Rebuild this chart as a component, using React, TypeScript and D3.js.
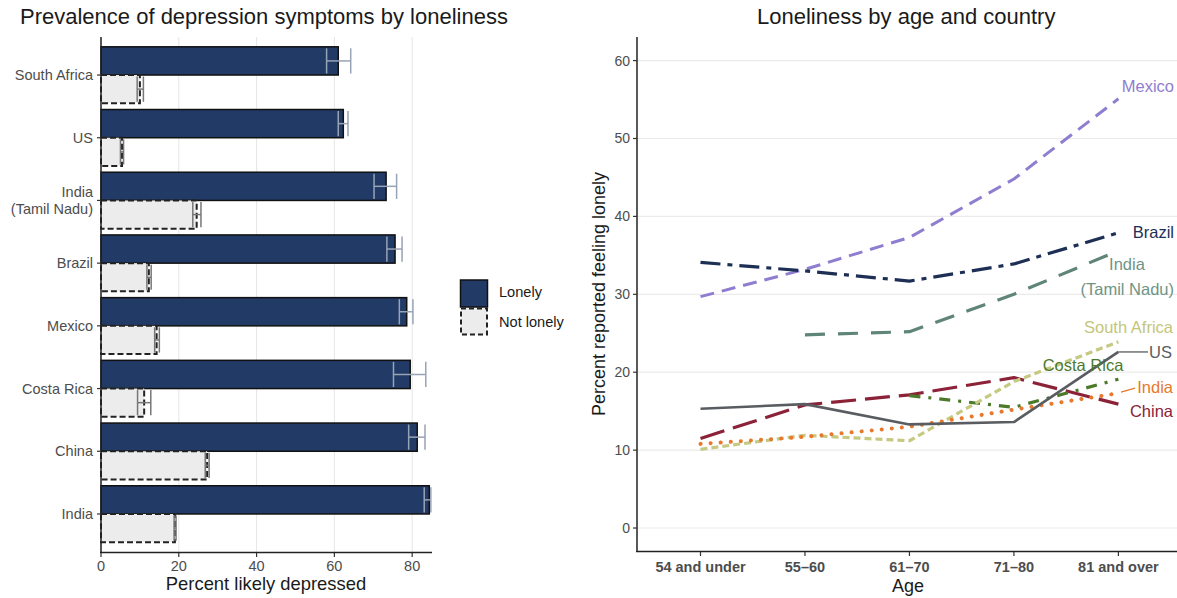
import React from "react";
import * as d3 from "d3";

const countries = ["South Africa", "US", "India (Tamil Nadu)", "Brazil", "Mexico", "Costa Rica", "China", "India"];
const lonelyPct = [61.0, 62.3, 73.3, 75.6, 78.6, 79.5, 81.3, 84.4];
const lonelyLo = [58.0, 61.0, 70.2, 73.5, 76.7, 75.2, 79.1, 83.1];
const lonelyHi = [64.2, 63.5, 76.0, 77.4, 80.2, 83.5, 83.3, 84.8];
const notLonelyPct = [10.0, 5.4, 24.6, 12.3, 14.3, 11.1, 27.3, 19.0];
const notLonelyLo = [9.3, 5.0, 23.6, 11.8, 13.8, 9.4, 26.8, 18.8];
const notLonelyHi = [10.9, 5.8, 25.7, 12.9, 15.0, 12.8, 27.8, 19.3];
const xTicksLeft = [0, 20, 40, 60, 80];

const ages = ["54 and under", "55\u201360", "61\u201370", "71\u201380", "81 and over"];
const yTicksRight = [0, 10, 20, 30, 40, 50, 60];
const mexico = [29.7, 33.2, 37.3, 44.8, 55.1];
const brazil = [34.1, 33.0, 31.7, 33.9, 37.9];
const indiaTN = [null, 24.8, 25.2, 30.0, 35.6];
const southAfrica = [10.1, 11.9, 11.2, 18.8, 23.9];
const us = [15.3, 15.9, 13.3, 13.6, 22.6];
const costaRica = [null, null, 17.0, 15.5, 19.1];
const indiaLine = [10.8, 11.7, 13.0, 15.2, 17.3];
const china = [11.5, 15.8, 17.1, 19.3, 15.9];

const FONT = "'Liberation Sans', Arial, Helvetica, sans-serif";

type Series = { name: string; values: (number | null)[]; color: string; dash: string; width: number; cap: string };
const series: Series[] = [
  { name: "Mexico", values: mexico, color: "#8f7dd0", dash: "14,8", width: 3, cap: "butt" },
  { name: "Brazil", values: brazil, color: "#1d2f55", dash: "20,7,5,7", width: 3.2, cap: "butt" },
  { name: "India (Tamil Nadu)", values: indiaTN, color: "#5f8577", dash: "20,13", width: 3.2, cap: "butt" },
  { name: "China", values: china, color: "#8c2238", dash: "25,9", width: 3.2, cap: "butt" },
  { name: "Costa Rica", values: costaRica, color: "#4c7a2a", dash: "11,8,3,8", width: 3.2, cap: "butt" },
  { name: "South Africa", values: southAfrica, color: "#c6c981", dash: "7,4", width: 3.2, cap: "butt" },
  { name: "India", values: indiaLine, color: "#e8792c", dash: "0.1,10", width: 4, cap: "round" },
  { name: "US", values: us, color: "#595d61", dash: "", width: 2.6, cap: "butt" },
];

export default function App() {
  const xL = d3.scaleLinear().domain([0, 85.1]).range([101, 432]);
  const yL = d3.scalePoint<string>().domain(countries).range([37.4, 551.6]).padding(0.6);
  const step = yL.step();
  const barH = step * 0.45;

  const xR = d3.scalePoint<string>().domain(ages).range([700.5, 1118.4]);
  const yR = d3.scaleLinear().domain([-2.95, 62.9]).range([551, 38]);
  const line = d3
    .line<number | null>()
    .defined((d) => d !== null)
    .x((_, i) => xR(ages[i]) as number)
    .y((d) => yR(d as number));

  const grey = "#4d4d4d";
  const axisX = 637;

  return (
    <svg width={1177} height={598} style={{ position: "absolute", left: 0, top: 0, background: "#fff" }} fontFamily={FONT}>
      <rect x={0} y={0} width={1177} height={598} fill="#fff" />
      <text x={20} y={24} fontSize={22} fill="#1a1a1a">Prevalence of depression symptoms by loneliness</text>
      <text x={757} y={24} fontSize={22} fill="#1a1a1a">Loneliness by age and country</text>

      {xTicksLeft.map((t) => (
        <line key={"g" + t} x1={xL(t)} x2={xL(t)} y1={37} y2={552} stroke="#e6e6e6" strokeWidth={1} />
      ))}

      {countries.map((c, i) => {
        const cy = yL(c) as number;
        return (
          <g key={c}>
            <rect x={xL(0)} y={cy - barH} width={xL(lonelyPct[i]) - xL(0)} height={barH} fill="#213a66" stroke="#111" strokeWidth={1.5} />
            <rect x={xL(0)} y={cy} width={xL(notLonelyPct[i]) - xL(0)} height={barH} fill="#ececec" stroke="#222" strokeWidth={2} strokeDasharray="6,3" />
            <g stroke="#98a3b5" strokeWidth={1.5}>
              <line x1={xL(lonelyLo[i])} x2={xL(lonelyHi[i])} y1={cy - barH / 2} y2={cy - barH / 2} />
              <line x1={xL(lonelyLo[i])} x2={xL(lonelyLo[i])} y1={cy - barH + 1.5} y2={cy - 1.5} />
              <line x1={xL(lonelyHi[i])} x2={xL(lonelyHi[i])} y1={cy - barH + 1.5} y2={cy - 1.5} />
            </g>
            <g stroke="#777" strokeWidth={1.5}>
              <line x1={xL(notLonelyLo[i])} x2={xL(notLonelyHi[i])} y1={cy + barH / 2} y2={cy + barH / 2} />
              <line x1={xL(notLonelyLo[i])} x2={xL(notLonelyLo[i])} y1={cy + 1.5} y2={cy + barH - 1.5} />
              <line x1={xL(notLonelyHi[i])} x2={xL(notLonelyHi[i])} y1={cy + 1.5} y2={cy + barH - 1.5} />
            </g>
          </g>
        );
      })}

      <line x1={101} x2={101} y1={37} y2={553} stroke="#222" strokeWidth={1.5} />
      <line x1={100} x2={432} y1={552.5} y2={552.5} stroke="#222" strokeWidth={1.5} />
      {countries.map((c) => {
        const cy = yL(c) as number;
        const parts = c === "India (Tamil Nadu)" ? ["India", "(Tamil Nadu)"] : [c];
        return (
          <g key={"yl" + c}>
            <line x1={97} x2={101} y1={cy} y2={cy} stroke="#333" strokeWidth={1.2} />
            {parts.map((p, j) => (
              <text key={p} x={93} y={cy + 5 + (j - (parts.length - 1) / 2) * 17} fontSize={14.5} fill={grey} textAnchor="end">
                {p}
              </text>
            ))}
          </g>
        );
      })}
      {xTicksLeft.map((t) => (
        <g key={"xl" + t}>
          <line x1={xL(t)} x2={xL(t)} y1={553} y2={557} stroke="#333" strokeWidth={1.2} />
          <text x={xL(t)} y={571} fontSize={14.5} fill={grey} textAnchor="middle">{t}</text>
        </g>
      ))}
      <text x={266} y={590} fontSize={18.4} fill="#1a1a1a" textAnchor="middle">Percent likely depressed</text>

      <rect x={460.5} y={280} width={27} height={27} fill="#213a66" stroke="#111" strokeWidth={1.5} />
      <rect x={461} y={308.5} width={26} height={26} fill="#ececec" stroke="#222" strokeWidth={2} strokeDasharray="5,3" />
      <text x={499} y={297} fontSize={14.6} fill="#1a1a1a">Lonely</text>
      <text x={499} y={326.5} fontSize={14.6} fill="#1a1a1a">Not lonely</text>

      {yTicksRight.map((t) => (
        <line key={"gr" + t} x1={axisX} x2={1177} y1={yR(t)} y2={yR(t)} stroke="#ebebeb" strokeWidth={1.2} />
      ))}

      {series.map((s) => (
        <path
          key={s.name}
          d={line(s.values) || ""}
          fill="none"
          stroke={s.color}
          strokeWidth={s.width}
          strokeDasharray={s.dash || undefined}
          strokeLinecap={s.cap as any}
          strokeLinejoin="round"
        />
      ))}

      <text x={1174} y={92} fontSize={16.5} fill="#8f7dd0" textAnchor="end">Mexico</text>
      <text x={1174} y={238} fontSize={16.5} fill="#1d2f55" textAnchor="end">Brazil</text>
      <text x={1127} y={270} fontSize={16.5} fill="#6f9486" textAnchor="middle">India</text>
      <text x={1174} y={295} fontSize={16.5} fill="#6f9486" textAnchor="end">(Tamil Nadu)</text>
      <text x={1173} y={333} fontSize={16.5} fill="#c3c67a" textAnchor="end">South Africa</text>
      <line x1={xR(ages[4]) as number} x2={1148} y1={yR(us[4])} y2={yR(us[4])} stroke="#595d61" strokeWidth={1.3} />
      <text x={1172} y={358} fontSize={16.5} fill="#595d61" textAnchor="end">US</text>
      <text x={1083} y={371} fontSize={16.5} fill="#4c7a2a" textAnchor="middle">Costa Rica</text>
      <line x1={1121} x2={1135} y1={yR(indiaLine[4]) - 1} y2={yR(indiaLine[4]) - 5} stroke="#e8792c" strokeWidth={1.3} />
      <text x={1173} y={393} fontSize={16.5} fill="#e8792c" textAnchor="end">India</text>
      <text x={1173} y={417} fontSize={16.5} fill="#8c2238" textAnchor="end">China</text>

      <line x1={axisX} x2={axisX} y1={37} y2={552} stroke="#222" strokeWidth={1.5} />
      <line x1={axisX - 1} x2={1177} y1={551.5} y2={551.5} stroke="#222" strokeWidth={1.5} />
      {yTicksRight.map((t) => (
        <g key={"yr" + t}>
          <line x1={axisX - 4} x2={axisX} y1={yR(t)} y2={yR(t)} stroke="#333" strokeWidth={1.2} />
          <text x={axisX - 7} y={yR(t) + 5} fontSize={14} fill={grey} textAnchor="end">{t}</text>
        </g>
      ))}
      {ages.map((a) => (
        <g key={"xr" + a}>
          <line x1={xR(a) as number} x2={xR(a) as number} y1={552} y2={556} stroke="#333" strokeWidth={1.2} />
          <text x={xR(a) as number} y={572} fontSize={14.5} fontWeight="bold" fill={grey} textAnchor="middle">{a}</text>
        </g>
      ))}
      <text x={908} y={592} fontSize={18} fill="#1a1a1a" textAnchor="middle">Age</text>
      <text transform="translate(605,294) rotate(-90)" fontSize={18} fill="#1a1a1a" textAnchor="middle">Percent reported feeling lonely</text>
    </svg>
  );
}
